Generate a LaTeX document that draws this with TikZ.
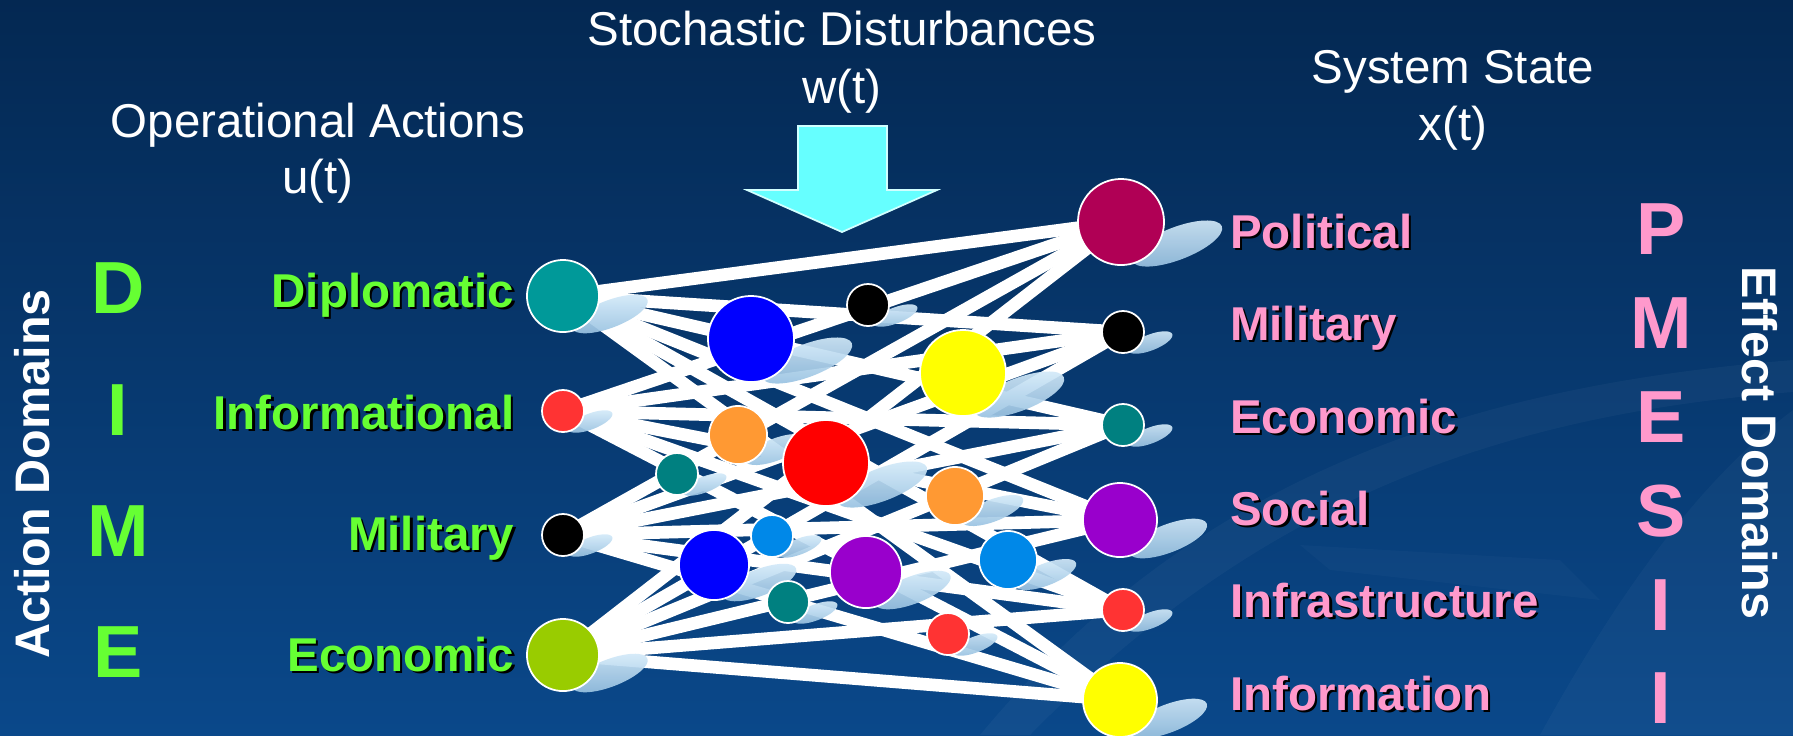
\documentclass[tikz,border=0pt]{standalone}
\usepackage{fontspec}
\setmainfont{Liberation Sans}
\pgfdeclarelayer{bg}\pgfdeclarelayer{edges}\pgfdeclarelayer{shad}
\pgfsetlayers{bg,edges,shad,main}
\definecolor{bgtop}{RGB}{4,40,82}
\definecolor{bgbot}{RGB}{10,72,138}
\definecolor{lgreen}{RGB}{102,255,51}
\definecolor{lpink}{RGB}{255,153,204}
\definecolor{cteal}{RGB}{0,153,153}
\definecolor{dteal}{RGB}{0,128,128}
\definecolor{cred}{RGB}{255,51,51}
\definecolor{cgreen}{RGB}{153,204,0}
\definecolor{cmaroon}{RGB}{176,0,85}
\definecolor{cpurple}{RGB}{153,0,204}
\definecolor{cyellow}{RGB}{255,255,0}
\definecolor{cblue}{RGB}{0,0,255}
\definecolor{corange}{RGB}{255,153,51}
\definecolor{cltblue}{RGB}{0,136,232}
\definecolor{cred2}{RGB}{255,0,0}
\definecolor{shadtop}{RGB}{214,236,250}
\definecolor{shadbot}{RGB}{150,192,224}
\definecolor{acyan}{RGB}{102,255,255}
% name, x, y, radius, colour
\newcommand\dnode[5]{%
  \node[dot, fill=#5, minimum size=#4*0.02cm] (#1) at (#2,#3) {};
  \begin{pgfonlayer}{shad}
    \shade[top color=shadtop, bottom color=shadbot, opacity=0.92,
           rotate around={21:(#2+1.3*#4,#3+0.5*#4)}]
      (#2+1.3*#4,#3+0.5*#4) ellipse [x radius=1.12*#4, y radius=0.38*#4];
  \end{pgfonlayer}}
% name, x, y, anchor, colour, text
\newcommand\shlabel[6]{%
  \node[lab, text=black, anchor=#4] (#1s) at (#2+2.5,#3+2.5) {#6};
  \node[lab, text=#5, anchor=#4] (#1) at (#2,#3) {#6};}
\begin{document}
\begin{tikzpicture}[x=0.01cm,y=-0.01cm,
  dot/.style={circle, draw=white, line width=0.5pt, inner sep=0pt},
  wire/.style={draw=white, line width=3.6pt},
  hdr/.style={text=white, font=\fontsize{13.5}{16}\selectfont, anchor=base, inner sep=0pt},
  lab/.style={font=\bfseries\fontsize{13.5}{16}\selectfont, inner sep=0pt},
  big/.style={font=\bfseries\fontsize{21}{24}\selectfont, anchor=base, inner sep=0pt},
  side/.style={text=white, font=\bfseries\fontsize{13.8}{16}\selectfont, anchor=base, inner sep=0pt}]
\useasboundingbox (0,0) rectangle (1793,735);
\begin{pgfonlayer}{bg}
  \shade[top color=bgtop, bottom color=bgbot] (0,0) rectangle (1793,735);
  \fill[white, opacity=0.035] (980,735) .. controls (1200,470) and (1480,385) .. (1793,360)
     -- (1793,392) .. controls (1500,415) and (1260,500) .. (1030,735) -- cycle;
  \fill[white, opacity=0.03] (1540,735) .. controls (1620,590) and (1700,480) .. (1793,410)
     -- (1793,735) -- cycle;
  \fill[white, opacity=0.025] (1300,545) -- (1560,560) -- (1600,600) -- (1330,570) -- cycle;
\end{pgfonlayer}

% stochastic disturbance arrow
\fill[acyan, draw=white!70!acyan, line width=0.5pt]
  (798,126) -- (887,126) -- (887,190) -- (937,190) -- (842,232) -- (747,190) -- (798,190) -- cycle;

% input (action) nodes
\dnode{L1}{563}{296}{36}{cteal}
\dnode{L2}{563}{411}{21}{cred}
\dnode{L3}{563}{535}{21}{black}
\dnode{L4}{563}{655}{36}{cgreen}
% output (effect) nodes
\dnode{R1}{1121}{222}{43}{cmaroon}
\dnode{R2}{1123}{332}{21}{black}
\dnode{R3}{1123}{425}{21}{dteal}
\dnode{R4}{1120}{520}{37}{cpurple}
\dnode{R5}{1123}{610}{21}{cred}
\dnode{R6}{1120}{700}{37}{cyellow}
% hidden-layer nodes
\dnode{M1}{751}{339}{43}{cblue}
\dnode{M2}{868}{305}{21}{black}
\dnode{M3}{963}{373}{43}{cyellow}
\dnode{M4}{738}{435}{29}{corange}
\dnode{M5}{677}{474}{21}{dteal}
\dnode{M6}{826}{463}{43}{cred2}
\dnode{M7}{955}{496}{29}{corange}
\dnode{M8}{772}{536}{21}{cltblue}
\dnode{M9}{714}{565}{35}{cblue}
\dnode{M10}{866}{572}{36}{cpurple}
\dnode{M11}{1008}{560}{29}{cltblue}
\dnode{M12}{788}{602}{21}{dteal}
\dnode{M13}{948}{634}{21}{cred}

\begin{pgfonlayer}{edges}
  \foreach \a in {L1,L2,L3,L4}{
    \foreach \b in {R1,R2,R3,R4,R5,R6}{
      \path[wire] (\a.center) -- (\b.center);}}
\end{pgfonlayer}

% headings
\node[hdr] (sd) at (842,45.7) {Stochastic Disturbances};
\node[hdr] (wt) at (842,103) {w(t)};
\node[hdr] (oa) at (318,137) {Operational Actions};
\node[hdr] (ut) at (318,193) {u(t)};
\node[hdr] (ss) at (1453,83) {System State};
\node[hdr] (xt) at (1453,140) {x(t)};

% action labels
\shlabel{tD}{515}{307}{base east}{lgreen}{Diplomatic}
\shlabel{tI}{515}{429}{base east}{lgreen}{Informational}
\shlabel{tM}{515}{550}{base east}{lgreen}{Military}
\shlabel{tE}{515}{671}{base east}{lgreen}{Economic}
% effect labels
\shlabel{eP}{1229.5}{248}{base west}{lpink}{Political}
\shlabel{eM}{1229.5}{340}{base west}{lpink}{Military}
\shlabel{eE}{1229.5}{433}{base west}{lpink}{Economic}
\shlabel{eS}{1229.5}{525}{base west}{lpink}{Social}
\shlabel{eI}{1229.5}{617}{base west}{lpink}{Infrastructure}
\shlabel{eN}{1229.5}{710}{base west}{lpink}{Information}

% big letters
\node[big, text=lgreen] (bD) at (118,313) {D};
\node[big, text=lgreen] (bI) at (118,435) {I};
\node[big, text=lgreen] (bM) at (118,556) {M};
\node[big, text=lgreen] (bE) at (118,677) {E};
\node[big, text=lpink] (pP) at (1661,254) {P};
\node[big, text=lpink] (pM) at (1661,348) {M};
\node[big, text=lpink] (pE) at (1661,442) {E};
\node[big, text=lpink] (pS) at (1661,536) {S};
\node[big, text=lpink] (pI) at (1661,630) {I};
\node[big, text=lpink] (pI2) at (1661,723) {I};

% side titles
\node[side, rotate=90] (ad) at (50,474) {Action Domains};
\node[side, rotate=-90] (ed) at (1742,443) {Effect Domains};
\end{tikzpicture}
\end{document}
